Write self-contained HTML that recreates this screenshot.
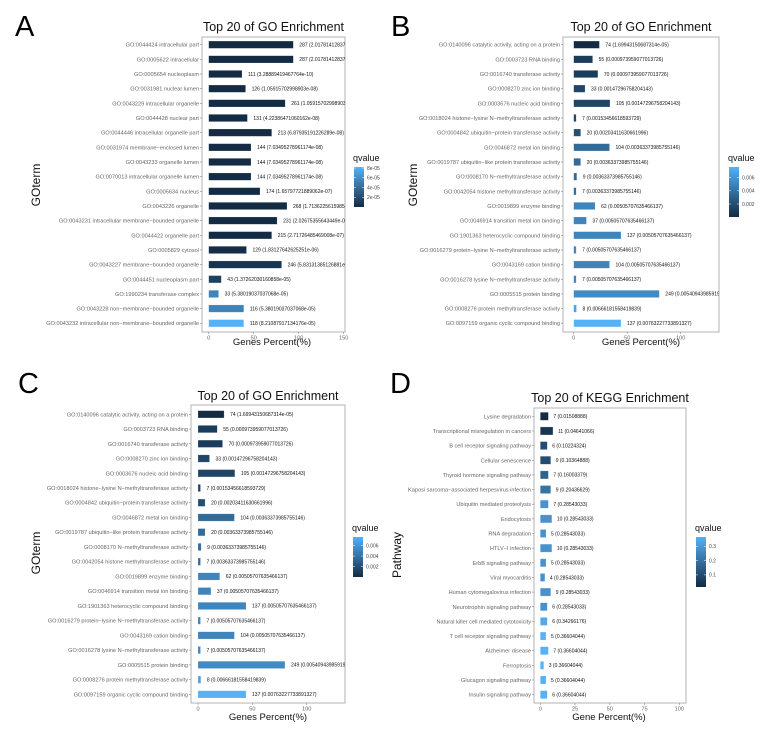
<!DOCTYPE html>
<html><head><meta charset="utf-8">
<style>
html,body{margin:0;padding:0;background:#fff;}
svg{display:block;font-family:"Liberation Sans",sans-serif;}
</style></head>
<body>
<svg id="fig" width="762" height="731" viewBox="0 0 762 731" xmlns="http://www.w3.org/2000/svg">
<defs>
<linearGradient id="qgrad" x1="0" y1="1" x2="0" y2="0"><stop offset="0" stop-color="#132B43"/><stop offset="1" stop-color="#56B1F7"/></linearGradient>
</defs>
</svg>
<script>
// ---- Panel A data ----
const aTerms=["GO:0044424 intracellular part","GO:0005622 intracellular","GO:0005654 nucleoplasm","GO:0031981 nuclear lumen","GO:0043229 intracellular organelle","GO:0044428 nuclear part","GO:0044446 intracellular organelle part","GO:0031974 membrane−enclosed lumen","GO:0043233 organelle lumen","GO:0070013 intracellular organelle lumen","GO:0005634 nucleus","GO:0043226 organelle","GO:0043231 intracellular membrane−bounded organelle","GO:0044422 organelle part","GO:0005829 cytosol","GO:0043227 membrane−bounded organelle","GO:0044451 nucleoplasm part","GO:1990234 transferase complex","GO:0043228 non−membrane−bounded organelle","GO:0043232 intracellular non−membrane−bounded organelle"];
const aCounts=[287,287,111,126,261,131,213,144,144,144,174,268,231,215,129,246,43,33,116,118];
const aPct=[94,94,37,41,85,43,70,47,47,47,57,87,76,70,42,81,14,11,39,39];
const aQ=[2.02e-19,2.02e-19,3.29e-10,1.06e-8,1.06e-8,4.22e-8,6.88e-8,7.03e-8,7.03e-8,7.03e-8,1.66e-7,1.71e-7,2.03e-7,2.72e-7,1.83e-6,5.83e-6,1.37e-5,5.38e-5,5.38e-5,8.21e-5];
const aQText=["2.01781412837e-19","2.01781412837e-19","3.28889419467764e-10","1.05915702998903e-08","1.05915702998903e-08","4.22386471060162e-08","6.87935191226289e-08","7.03495278961174e-08","7.03495278961174e-08","7.03495278961174e-08","1.65797721889062e-07","1.71362256159854e-07","2.02675355643449e-07","2.71726485469008e-07","1.83127642625251e-06","5.83131385126881e-06","1.37262030160858e-05","5.38019037037068e-05","5.38019037037068e-05","8.21087917134176e-05"];
const aXTicks=[0,50,100,150];
const aLegTicks=[2e-5,4e-5,6e-5,8e-5];
const aLegLabels=["2e-05","4e-05","6e-05","8e-05"];

// ---- Panels B and C data (same GO MF result) ----
const bTerms=["GO:0140096 catalytic activity, acting on a protein","GO:0003723 RNA binding","GO:0016740 transferase activity","GO:0008270 zinc ion binding","GO:0003676 nucleic acid binding","GO:0018024 histone−lysine N−methyltransferase activity","GO:0004842 ubiquitin−protein transferase activity","GO:0046872 metal ion binding","GO:0019787 ubiquitin−like protein transferase activity","GO:0008170 N−methyltransferase activity","GO:0042054 histone methyltransferase activity","GO:0019899 enzyme binding","GO:0046914 transition metal ion binding","GO:1901363 heterocyclic compound binding","GO:0016279 protein−lysine N−methyltransferase activity","GO:0043169 cation binding","GO:0016278 lysine N−methyltransferase activity","GO:0005515 protein binding","GO:0008276 protein methyltransferase activity","GO:0097159 organic cyclic compound binding"];
const bCounts=[74,55,70,33,105,7,20,104,20,9,7,62,37,137,7,104,7,249,8,137];
const bPct=[24,17.7,22.6,10.6,33.9,2.3,6.5,33.5,6.5,2.9,2.3,20,11.9,44.2,2.3,33.5,2.3,80,2.6,44.2];
const bQ=[1.699e-5,0.000974,0.000974,0.001473,0.001473,0.001535,0.002034,0.003634,0.003634,0.003634,0.003634,0.005057,0.005057,0.005057,0.005057,0.005057,0.005057,0.005409,0.006662,0.007632];
const bQText=["1.69943150687314e-05","0.000973959077013726","0.000973959077013726","0.00147296758204143","0.00147296758204143","0.00153456618593729","0.00203411630661996","0.00363373985755146","0.00363373985755146","0.00363373985755146","0.00363373985755146","0.00505707635466137","0.00505707635466137","0.00505707635466137","0.00505707635466137","0.00505707635466137","0.00505707635466137","0.00540943985919","0.00666181558419839","0.00763227733891327"];
const bXTicks=[0,50,100];
const bLegTicks=[0.002,0.004,0.006];
const bLegLabels=["0.002","0.004","0.006"];

// ---- Panel D data (KEGG) ----
const dTerms=["Lysine degradation","Transcriptional misregulation in cancers","B cell receptor signaling pathway","Cellular senescence","Thyroid hormone signaling pathway","Kaposi sarcoma−associated herpesvirus infection","Ubiquitin mediated proteolysis","Endocytosis","RNA degradation","HTLV−I infection","ErbB signaling pathway","Viral myocarditis","Human cytomegalovirus infection","Neurotrophin signaling pathway","Natural killer cell mediated cytotoxicity","T cell receptor signaling pathway","Alzheimer disease","Ferroptosis","Glucagon signaling pathway","Insulin signaling pathway"];
const dCounts=[7,11,6,9,7,9,7,10,5,10,5,4,9,6,6,5,7,3,5,6];
const dPct=[5.8,9.1,5,7.5,5.8,7.5,5.8,8.3,4.1,8.3,4.1,3.3,7.5,5,5,4.1,5.8,2.5,4.1,5];
const dQ=[0.01508888,0.04641066,0.10224324,0.10364888,0.16003379,0.20436629,0.28543033,0.28543033,0.28543033,0.28543033,0.28543033,0.28543033,0.28543033,0.28543033,0.34266176,0.36604044,0.36604044,0.36604044,0.36604044,0.36604044];
const dQText=["0.01508888","0.04641066","0.10224324","0.10364888","0.16003379","0.20436629","0.28543033","0.28543033","0.28543033","0.28543033","0.28543033","0.28543033","0.28543033","0.28543033","0.34266176","0.36604044","0.36604044","0.36604044","0.36604044","0.36604044"];
const dXTicks=[0,25,50,75,100];
const dLegTicks=[0.1,0.2,0.3];
const dLegLabels=["0.1","0.2","0.3"];

const NS="http://www.w3.org/2000/svg";
const svg=document.getElementById('fig');
function el(tag,attrs,parent,text){const e=document.createElementNS(NS,tag);for(const k in attrs)e.setAttribute(k,attrs[k]);if(text!==undefined)e.textContent=text;(parent||svg).appendChild(e);return e;}
function qColor(t){t=Math.max(0,Math.min(1,t));const lo=[19,43,67],hi=[86,177,247];return 'rgb('+lo.map((v,i)=>Math.round(v+(hi[i]-v)*t)).join(',')+')';}

function panel(p){
  const g=el('g',{});  
  const letter=el('text',{x:p.letterX,y:p.letterY,'font-size':29,fill:'#000'},g,p.letter);
   
  const title=el('text',{x:(p.bx0+p.bx1)/2,y:p.titleY,'font-size':12.5,'text-anchor':'middle',fill:'#111'},g,p.title);
   
  const box=el('rect',{x:p.bx0,y:p.by0,width:p.bx1-p.bx0,height:p.by1-p.by0,fill:'#fff',stroke:'#b3b3b3','stroke-width':1},g);
   
  const clipId='clip'+p.id;
  const cp=el('clipPath',{id:clipId},g); el('rect',{x:p.bx0,y:p.by0,width:p.bx1-p.bx0,height:p.by1-p.by0},cp);
  const xs=v=>p.x0+v*p.ppp;
  const ys=i=>p.yFirst+i*p.yStep;
  const qmin=Math.min(...p.q),qmax=Math.max(...p.q);
  const qt=q=>(q-qmin)/(qmax-qmin);
  const inner=el('g',{'clip-path':'url(#'+clipId+')'},g);
  for(let i=0;i<p.terms.length;i++){
    const y=ys(i);
    const bar=el('rect',{x:xs(0),y:y-p.barH/2,width:xs(p.pct[i])-xs(0),height:p.barH,fill:qColor(qt(p.q[i])),stroke:'rgba(255,255,255,0.35)','stroke-width':0.5},inner);
    
    
    const vl=el('text',{x:xs(p.pct[i])+p.lblGap,y:y+1.8,'font-size':5,fill:'#111'},inner,p.counts[i]+' ('+p.qtext[i]+')');
    
    
    const tl=el('text',{x:p.bx0-3,y:y+2,'font-size':5.6,'text-anchor':'end',fill:'#666'},g,p.terms[i]);
    
    
    el('line',{x1:p.bx0-2,x2:p.bx0,y1:y,y2:y,stroke:'#888','stroke-width':0.6},g);
  }
  for(const t of p.xticks){
    el('line',{x1:xs(t),x2:xs(t),y1:p.by1,y2:p.by1+2,stroke:'#888','stroke-width':0.6},g);
    const tx=el('text',{x:xs(t),y:p.by1+7.5,'font-size':5.6,'text-anchor':'middle',fill:'#666'},g,String(t));
    
    
  }
  const xt=el('text',{x:p.xTitleX,y:p.xTitleY,'font-size':9.5,'text-anchor':'middle',fill:'#111'},g,p.xTitle);
   
  const yt=el('text',{x:p.yTitleX,y:p.yTitleY,'font-size':12,'text-anchor':'middle',fill:'#111',transform:'rotate(-90 '+p.yTitleX+' '+p.yTitleY+')'},g,p.yTitle);
   
  const lg=el('text',{x:p.legX,y:p.legY,'font-size':9,fill:'#111'},g,'qvalue');
   
  const cb=el('rect',{x:p.legX+1,y:p.cbY0,width:10,height:p.cbY1-p.cbY0,fill:'url(#qgrad)'},g);
   
  for(let k=0;k<p.legTicks.length;k++){
    const t=(p.legTicks[k]-qmin)/(qmax-qmin);
    const y=p.cbY1-t*(p.cbY1-p.cbY0);
    el('line',{x1:p.legX+1,x2:p.legX+3,y1:y,y2:y,stroke:'#fff','stroke-width':0.5},g);
    el('line',{x1:p.legX+9,x2:p.legX+11,y1:y,y2:y,stroke:'#fff','stroke-width':0.5},g);
    const ll=el('text',{x:p.legX+14,y:y+1.8,'font-size':5,fill:'#444'},g,p.legLabels[k]);
     
  }
}

panel({id:'a',letter:'A',letterX:15,letterY:36,title:'Top 20 of GO Enrichment',titleY:31,
 bx0:202,bx1:345,by0:37,by1:332,x0:208.7,ppp:0.9,yFirst:44.7,yStep:14.66,barH:7.3,lblGap:6,
 terms:aTerms,counts:aCounts,pct:aPct,q:aQ,qtext:aQText,xticks:aXTicks,
 xTitle:'Genes Percent(%)',xTitleX:272,xTitleY:345,yTitle:'GOterm',yTitleX:40,yTitleY:185,
 legX:353,legY:161,cbY0:167,cbY1:207,legTicks:aLegTicks,legLabels:aLegLabels});

panel({id:'b',letter:'B',letterX:391,letterY:36,title:'Top 20 of GO Enrichment',titleY:31,
 bx0:563,bx1:719,by0:37,by1:332,x0:573.7,ppp:1.07,yFirst:44.7,yStep:14.66,barH:7.3,lblGap:6,
 terms:bTerms,counts:bCounts,pct:bPct,q:bQ,qtext:bQText,xticks:bXTicks,
 xTitle:'Genes Percent(%)',xTitleX:641,xTitleY:345,yTitle:'GOterm',yTitleX:417,yTitleY:185,
 legX:728,legY:161,cbY0:167,cbY1:217,legTicks:bLegTicks,legLabels:bLegLabels});

panel({id:'c',letter:'C',letterX:18,letterY:393,title:'Top 20 of GO Enrichment',titleY:400,
 bx0:191,bx1:345,by0:405,by1:703,x0:198,ppp:1.087,yFirst:414.3,yStep:14.74,barH:7.3,lblGap:6,
 terms:bTerms,counts:bCounts,pct:bPct,q:bQ,qtext:bQText,xticks:bXTicks,
 xTitle:'Genes Percent(%)',xTitleX:268,xTitleY:720,yTitle:'GOterm',yTitleX:40,yTitleY:553,
 legX:352,legY:531,cbY0:537,cbY1:577,legTicks:bLegTicks,legLabels:bLegLabels});

panel({id:'d',letter:'D',letterX:390,letterY:393,title:'Top 20 of KEGG Enrichment',titleY:402,
 bx0:534,bx1:686,by0:408,by1:703,x0:540.3,ppp:1.39,yFirst:416.3,yStep:14.65,barH:8,lblGap:5,
 terms:dTerms,counts:dCounts,pct:dPct,q:dQ,qtext:dQText,xticks:dXTicks,
 xTitle:'Gene Percent(%)',xTitleX:609,xTitleY:720,yTitle:'Pathway',yTitleX:401,yTitleY:555,
 legX:695,legY:531,cbY0:537,cbY1:587,legTicks:dLegTicks,legLabels:dLegLabels});
</script>
</body></html>
